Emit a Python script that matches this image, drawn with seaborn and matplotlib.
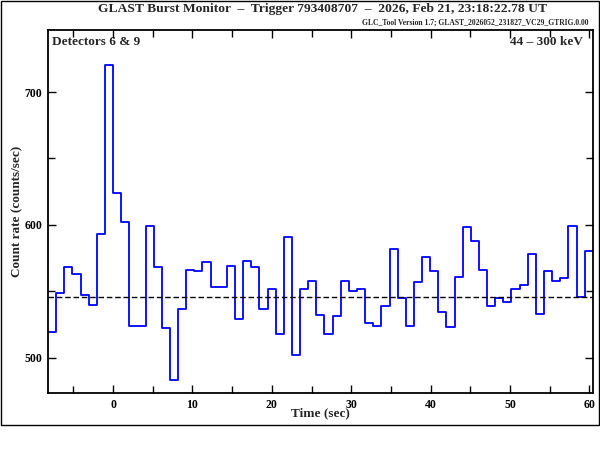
import numpy as np
import matplotlib
matplotlib.use("Agg")
import matplotlib.pyplot as plt
from matplotlib.patches import Rectangle
from matplotlib.ticker import MultipleLocator
import seaborn as sns

# ===== data =====
t_start = -8.192          # sec, first bin edge
bin_width = 1.024         # sec
rates = [519, 549, 568, 563, 547, 540, 593, 720, 624, 602,
         524, 524, 599, 568, 522, 483, 537, 566, 565, 572,
         553, 553, 569, 529, 573, 568, 537, 552, 518, 591,
         502, 552, 558, 532, 518, 531, 558, 550, 552, 526,
         524, 539, 582, 545, 524, 557, 576, 565, 534, 523,
         561, 598, 588, 566, 539, 545, 542, 552, 555, 578,
         533, 565, 558, 560, 599, 546, 580]
background = 545.5

title = "GLAST Burst Monitor  \u2013  Trigger 793408707  \u2013  2026, Feb 21, 23:18:22.78 UT"
subtitle = "GLC_Tool Version 1.7; GLAST_2026052_231827_VC29_GTRIG.0.00"
detectors = "Detectors 6 & 9"
energy = "44 \u2013 300 keV"

edges = t_start + bin_width * np.arange(len(rates) + 1)
steps = rates + [rates[-1]]

# ======================
# plot
# ======================
sns.set_theme(style="ticks")
plt.rcParams["font.family"] = ["Liberation Serif", "DejaVu Serif"]
plt.rcParams["font.weight"] = "bold"

fig = plt.figure(figsize=(6, 4.5), dpi=100)
ax = fig.add_axes([0.08, 0.1267, 0.908, 0.8067])

sns.lineplot(x=edges, y=steps, drawstyle="steps-post", color="#0000ff",
             linewidth=1.3, estimator=None, ax=ax)
ax.axhline(background, color="black", linestyle=(0, (4, 2)), linewidth=1)

ax.set_xlim(edges[0], edges[-1])
ax.set_ylim(473.4, 746.7)
ax.xaxis.set_major_locator(MultipleLocator(10))
ax.xaxis.set_minor_locator(MultipleLocator(5))
ax.yaxis.set_major_locator(MultipleLocator(100))
ax.yaxis.set_minor_locator(MultipleLocator(50))
ax.tick_params(which="both", direction="in", top=True, right=True,
               width=1, colors="black", labelsize=8.5)
ax.tick_params(which="major", length=6, pad=4)
ax.tick_params(which="minor", length=5)
for s in ax.spines.values():
    s.set_linewidth(1.3)
    s.set_color("black")

ax.set_xlabel("Time (sec)", fontsize=9.5, fontweight="bold")
ax.set_ylabel("Count rate (counts/sec)", fontsize=9.5, fontweight="bold")
ax.xaxis.set_label_coords(0.5, -0.04)
ax.yaxis.set_label_coords(-0.046, 0.5)

ax.text(0.007, 0.983, detectors, transform=ax.transAxes, ha="left", va="top",
        fontsize=9.5, fontweight="bold")
ax.text(0.982, 0.983, energy, transform=ax.transAxes, ha="right", va="top",
        fontsize=9.5, fontweight="bold")

fig.text(0.537, 1 - 9 / 450, title, ha="center", va="center",
         fontsize=9.7, fontweight="bold")
fig.text(0.98, 1 - 23 / 450, subtitle, ha="right", va="center",
         fontsize=5.5, fontweight="bold")

# frame around the whole plot area
fig.patches.append(Rectangle((0.5 / 600, 25.5 / 450), 598.5 / 600, 424 / 450,
                             transform=fig.transFigure, fill=False,
                             edgecolor="black", linewidth=1))

fig.savefig("out.png", dpi=100)
